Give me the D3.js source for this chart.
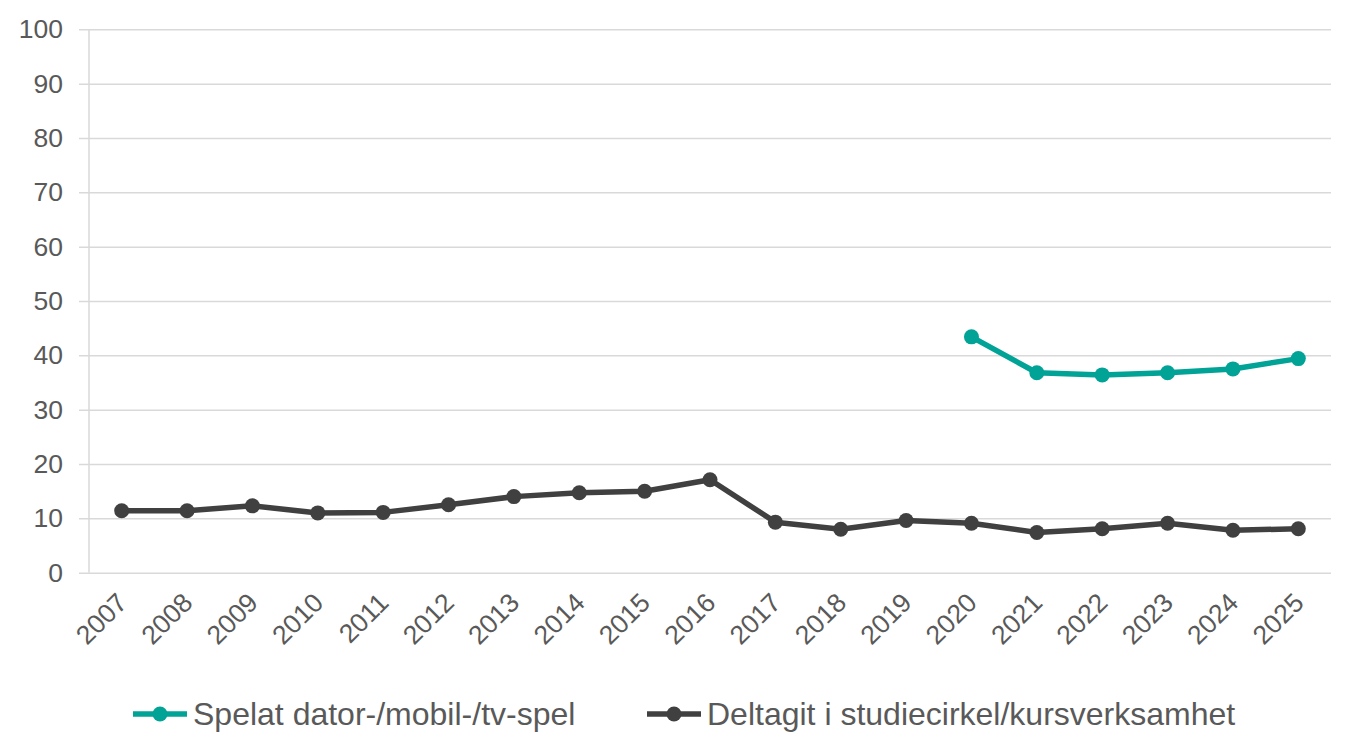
<!DOCTYPE html>
<html>
<head>
<meta charset="utf-8">
<script src="https://cdn.jsdelivr.net/npm/d3@7"></script>
<style>
 body { margin: 0; background: #fff; }
 text { font-family: "Liberation Sans", Arial, sans-serif; fill: #595959; }
</style>
</head>
<body>
<div id="chart"></div>
<script>

// chart data
var years = ["2007","2008","2009","2010","2011","2012","2013","2014","2015","2016",
             "2017","2018","2019","2020","2021","2022","2023","2024","2025"]

var spelValues = [null,null,null,null,null,null,null,null,null,null,
                  null,null,null,43.4,36.8,36.4,36.8,37.5,39.4]

var studieValues = [11.4,11.4,12.3,11.0,11.1,12.5,14.0,14.7,15.0,17.1,
                    9.3,8.0,9.6,9.1,7.4,8.1,9.1,7.8,8.1]

var yTicks = [0,10,20,30,40,50,60,70,80,90,100]

var seriesNames = ["Spelat dator-/mobil-/tv-spel", "Deltagit i studiecirkel/kursverksamhet"]
var seriesColors = ["#00a396", "#404040"]

var svgWidth = 1360
var svgHeight = 756

var margin = { top: 29.3, bottom: 183.3, left: 89, right: 29 }
var chartWidth = svgWidth - margin.left - margin.right
var chartHeight = svgHeight - margin.top - margin.bottom

var svg = d3.select("#chart")
  .append("svg")
  .attr("width", svgWidth)
  .attr("height", svgHeight)

var chartGroup = svg.append("g")
  .attr("transform", `translate(${margin.left},${margin.top})`)

// scales
var xScale = d3.scalePoint()
  .domain(years)
  .range([0, chartWidth])
  .padding(0.5)

var yScale = d3.scaleLinear()
  .domain([0, 100])
  .range([chartHeight, 0])

// gridlines + y labels
var leftAxis = d3.axisLeft(yScale)
  .tickValues(yTicks)
  .tickSize(-chartWidth - 10)

var yAxisG = chartGroup.append("g")
  .attr("transform", "translate(-10,0)")
  .call(leftAxis)

yAxisG.select(".domain").remove()
yAxisG.selectAll(".tick line")
  .attr("stroke", "#d9d9d9")
  .attr("stroke-width", 1.5)
yAxisG.selectAll(".tick text")
  .attr("font-size", "26.5px")
  .attr("fill", "#595959")
  .attr("x", -16)

// vertical axis line
chartGroup.append("line")
  .attr("x1", 0).attr("x2", 0)
  .attr("y1", 0).attr("y2", chartHeight)
  .attr("stroke", "#d9d9d9")
  .attr("stroke-width", 1.5)

// x labels (rotated)
var bottomAxis = d3.axisBottom(xScale).tickSize(0).tickPadding(0)

var xAxisG = chartGroup.append("g")
  .attr("transform", `translate(0,${chartHeight})`)
  .call(bottomAxis)

xAxisG.select(".domain").remove()
xAxisG.selectAll(".tick text")
  .attr("font-size", "26.5px")
  .attr("fill", "#595959")
  .attr("text-anchor", "end")
  .attr("dy", "0.35em")
  .attr("transform", "translate(0,25) rotate(-45)")
  .attr("y", 0)
  .attr("x", 0)

// lines
var allSeries = [spelValues, studieValues]

var line = d3.line()
  .defined(d => d != null)
  .x((d, i) => xScale(years[i]))
  .y(d => yScale(d))

allSeries.forEach(function(vals, s) {
  chartGroup.append("path")
    .datum(vals)
    .attr("d", line)
    .attr("fill", "none")
    .attr("stroke", seriesColors[s])
    .attr("stroke-width", 5.5)
    .attr("stroke-linejoin", "round")

  chartGroup.selectAll(null)
    .data(vals.map((v, i) => ({ v: v, year: years[i] })).filter(d => d.v != null))
    .enter()
    .append("circle")
    .attr("cx", d => xScale(d.year))
    .attr("cy", d => yScale(d.v))
    .attr("r", 7.5)
    .attr("fill", seriesColors[s])
})

// legend
var legendY = 714
var legendX = [133, 647]

seriesNames.forEach(function(name, s) {
  var g = svg.append("g").attr("transform", `translate(${legendX[s]},${legendY})`)
  g.append("line")
    .attr("x1", 0).attr("x2", 54)
    .attr("stroke", seriesColors[s])
    .attr("stroke-width", 5.5)
  g.append("circle")
    .attr("cx", 27).attr("r", 7.5)
    .attr("fill", seriesColors[s])
  g.append("text")
    .attr("x", 60)
    .attr("dy", "0.35em")
    .attr("font-size", "32px")
    .text(name)
})

</script>
</body>
</html>
